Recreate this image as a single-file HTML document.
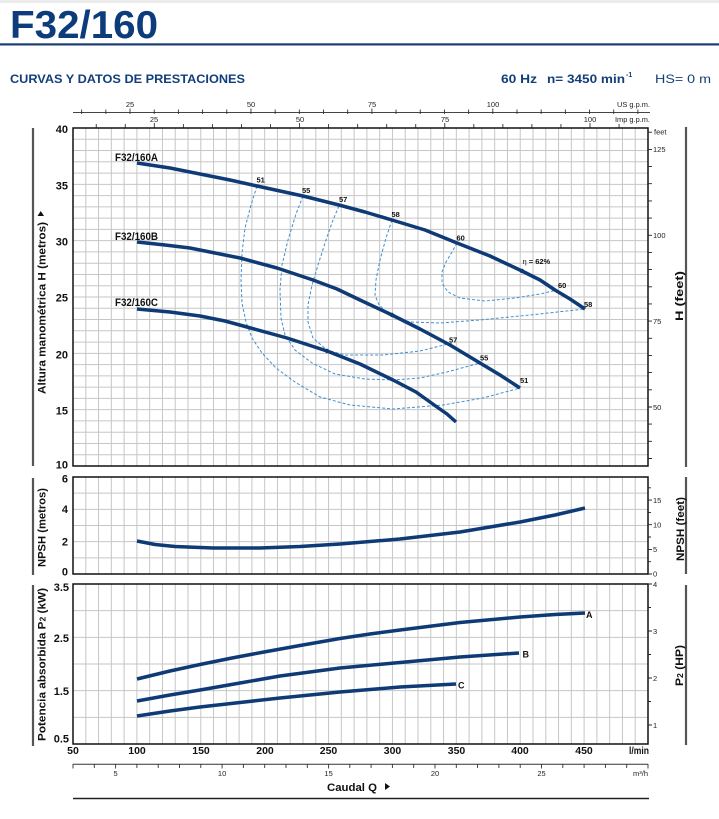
<!DOCTYPE html>
<html><head><meta charset="utf-8">
<style>
html,body{margin:0;padding:0;background:#fff;}
svg{display:block;}
text{font-family:"Liberation Sans",Arial,sans-serif;}
.b{font-weight:bold;}
.lt{font-size:11px;font-weight:bold;fill:#111;}
.sm{font-size:7.5px;fill:#222;}
.ef{font-size:7.5px;font-weight:bold;fill:#111;}
</style></head><body>
<svg width="719" height="819" viewBox="0 0 719 819" xmlns="http://www.w3.org/2000/svg">
<rect x="0" y="0" width="719" height="819" fill="#fff"/>
<rect x="0" y="0" width="719" height="3" fill="#ececec"/>
<!-- Header -->
<text x="10" y="38" font-size="39" font-weight="bold" fill="#0d3c7c" textLength="148" lengthAdjust="spacingAndGlyphs">F32/160</text>
<rect x="0" y="43.3" width="719" height="2.2" fill="#1d3f78"/>
<text x="10" y="83" font-size="11.5" font-weight="bold" fill="#123e7a" textLength="235" lengthAdjust="spacingAndGlyphs">CURVAS Y DATOS DE PRESTACIONES</text>
<text x="501" y="83" font-size="12" font-weight="bold" fill="#123e7a" textLength="36" lengthAdjust="spacingAndGlyphs">60 Hz</text>
<text x="547" y="83" font-size="12" font-weight="bold" fill="#123e7a" textLength="78" lengthAdjust="spacingAndGlyphs">n= 3450 min</text>
<text x="626" y="77" font-size="7" font-weight="bold" fill="#123e7a">-1</text>
<text x="655" y="83" font-size="12" fill="#123e7a" textLength="56" lengthAdjust="spacingAndGlyphs">HS= 0 m</text>

<!-- Top axes -->
<line x1="73" y1="112.5" x2="650" y2="112.5" stroke="#444" stroke-width="1"/>
<path stroke="#333" stroke-width="0.9" d="M81.66 109.5V114M105.85 109.5V114M130.03 108.5V114M154.22 109.5V114M178.4 109.5V114M202.59 109.5V114M226.77 109.5V114M250.96 108.5V114M275.14 109.5V114M299.32 109.5V114M323.51 109.5V114M347.69 109.5V114M371.88 108.5V114M396.06 109.5V114M420.25 109.5V114M444.43 109.5V114M468.62 109.5V114M492.8 108.5V114M516.99 109.5V114M541.17 109.5V114M565.35 109.5V114M589.54 109.5V114M613.72 109.5V114M637.91 109.5V114"/>
<text class="sm" x="130" y="107" text-anchor="middle">25</text>
<text class="sm" x="251" y="107" text-anchor="middle">50</text>
<text class="sm" x="372" y="107" text-anchor="middle">75</text>
<text class="sm" x="493" y="107" text-anchor="middle">100</text>
<text class="sm" x="650" y="107" text-anchor="end" textLength="33" lengthAdjust="spacingAndGlyphs">US g.p.m.</text>
<path stroke="#333" stroke-width="0.9" d="M96.24 124V128M125.29 124V128M154.33 123V128M183.38 124V128M212.42 124V128M241.47 124V128M270.51 124V128M299.56 123V128M328.6 124V128M357.64 124V128M386.69 124V128M415.73 124V128M444.78 123V128M473.82 124V128M502.87 124V128M531.91 124V128M560.96 124V128M590 123V128M619.05 124V128"/>
<text class="sm" x="154" y="122" text-anchor="middle">25</text>
<text class="sm" x="300" y="122" text-anchor="middle">50</text>
<text class="sm" x="445" y="122" text-anchor="middle">75</text>
<text class="sm" x="590" y="122" text-anchor="middle">100</text>
<text class="sm" x="650" y="122" text-anchor="end" textLength="35" lengthAdjust="spacingAndGlyphs">Imp g.p.m.</text>

<!-- Grid -->
<path fill="none" stroke="#c6c6c6" stroke-width="1" d="M85.78 128V744M98.56 128V744M111.33 128V744M124.11 128V744M136.89 128V744M149.67 128V744M162.44 128V744M175.22 128V744M188 128V744M200.78 128V744M213.56 128V744M226.33 128V744M239.11 128V744M251.89 128V744M264.67 128V744M277.44 128V744M290.22 128V744M303 128V744M315.78 128V744M328.56 128V744M341.33 128V744M354.11 128V744M366.89 128V744M379.67 128V744M392.44 128V744M405.22 128V744M418 128V744M430.78 128V744M443.56 128V744M456.33 128V744M469.11 128V744M481.89 128V744M494.67 128V744M507.44 128V744M520.22 128V744M533 128V744M545.78 128V744M558.56 128V744M571.33 128V744M584.11 128V744M596.89 128V744M609.67 128V744M622.44 128V744M635.22 128V744"/>
<rect x="70" y="466.8" width="582" height="9.5" fill="#fff"/>
<rect x="70" y="574.8" width="582" height="8.5" fill="#fff"/>
<path fill="none" stroke="#c6c6c6" stroke-width="1" d="M73 139.27H648M73 150.53H648M73 161.8H648M73 173.07H648M73 184.33H648M73 195.6H648M73 206.87H648M73 218.13H648M73 229.4H648M73 240.67H648M73 251.93H648M73 263.2H648M73 274.47H648M73 285.73H648M73 297H648M73 308.27H648M73 319.53H648M73 330.8H648M73 342.07H648M73 353.33H648M73 364.6H648M73 375.87H648M73 387.13H648M73 398.4H648M73 409.67H648M73 420.93H648M73 432.2H648M73 443.47H648M73 454.73H648
M73 493.17H648M73 509.33H648M73 525.5H648M73 541.67H648M73 557.83H648
M73 610.67H648M73 637.33H648M73 664H648M73 690.67H648M73 717.33H648"/>

<!-- Borders -->
<rect x="73" y="128" width="575" height="338" fill="none" stroke="#111" stroke-width="1.5"/>
<rect x="73" y="477" width="575" height="97" fill="none" stroke="#111" stroke-width="1.5"/>
<rect x="73" y="584" width="575" height="160" fill="none" stroke="#111" stroke-width="1.5"/>

<!-- Side bars -->
<path stroke="#555" stroke-width="2.2" d="M33 128V466M33 478V575M33 585V746M686 127V467M686 477V574M686 585V745"/>

<!-- Left labels main -->
<text class="lt" x="68" y="133" text-anchor="end">40</text>
<text class="lt" x="68" y="189.5" text-anchor="end">35</text>
<text class="lt" x="68" y="245.5" text-anchor="end">30</text>
<text class="lt" x="68" y="301.5" text-anchor="end">25</text>
<text class="lt" x="68" y="358.5" text-anchor="end">20</text>
<text class="lt" x="68" y="414.5" text-anchor="end">15</text>
<text class="lt" x="68" y="468.5" text-anchor="end">10</text>
<!-- NPSH left -->
<text class="lt" x="68" y="482.5" text-anchor="end">6</text>
<text class="lt" x="68" y="513" text-anchor="end">4</text>
<text class="lt" x="68" y="545.5" text-anchor="end">2</text>
<text class="lt" x="68" y="575.5" text-anchor="end">0</text>
<!-- Power left -->
<text class="lt" x="69" y="591" text-anchor="end">3.5</text>
<text class="lt" x="69" y="642" text-anchor="end">2.5</text>
<text class="lt" x="69" y="695" text-anchor="end">1.5</text>
<text class="lt" x="69" y="742.5" text-anchor="end">0.5</text>

<!-- Left titles -->
<text transform="translate(45.5,394) rotate(-90)" font-size="11" font-weight="bold" fill="#111" textLength="172" lengthAdjust="spacingAndGlyphs">Altura manométrica H (metros)</text>
<path d="M37.5 216 L44 216 L40.75 211 Z" fill="#111"/>
<text transform="translate(45.5,567) rotate(-90)" font-size="11" font-weight="bold" fill="#111" textLength="79" lengthAdjust="spacingAndGlyphs">NPSH (metros)</text>
<text transform="translate(45.5,741) rotate(-90)" font-size="11" font-weight="bold" fill="#111" textLength="153" lengthAdjust="spacingAndGlyphs">Potencia absorbida P<tspan font-size="8">2</tspan> (kW)</text>

<!-- Right ticks H feet -->
<path stroke="#222" stroke-width="0.9" d="M648 458.5h4M648 441.3h4M648 424.1h4M648 407h4M648 389.8h4M648 372.6h4M648 355.4h4M648 338.3h4M648 321.1h4M648 303.9h4M648 286.8h4M648 269.6h4M648 252.4h4M648 235.3h4M648 218.1h4M648 200.9h4M648 183.7h4M648 166.6h4M648 149.4h4M648 132.2h4"/>
<text class="sm" x="653" y="410">50</text>
<text class="sm" x="653" y="324">75</text>
<text class="sm" x="653" y="238">100</text>
<text class="sm" x="653" y="152">125</text>
<text class="sm" x="654" y="134.5">feet</text>
<!-- NPSH feet -->
<path stroke="#222" stroke-width="0.9" d="M648 574h4M648 561.7h3M648 549.4h4M648 537h3M648 524.7h4M648 512.4h3M648 500.1h4M648 487.8h3"/>
<text class="sm" x="653" y="576.5">0</text>
<text class="sm" x="653" y="552">5</text>
<text class="sm" x="653" y="527.5">10</text>
<text class="sm" x="653" y="503">15</text>
<!-- HP -->
<path stroke="#222" stroke-width="0.9" d="M648 584h4M648 607.5h3M648 631h4M648 654.5h3M648 678h4M648 701.5h3M648 725h4"/>
<text class="sm" x="653" y="587">4</text>
<text class="sm" x="653" y="634">3</text>
<text class="sm" x="653" y="681">2</text>
<text class="sm" x="653" y="728">1</text>

<!-- Right titles -->
<text transform="translate(683,321) rotate(-90)" font-size="11" font-weight="bold" fill="#111" textLength="50" lengthAdjust="spacingAndGlyphs">H (feet)</text>
<text transform="translate(684,561) rotate(-90)" font-size="11" font-weight="bold" fill="#111" textLength="64" lengthAdjust="spacingAndGlyphs">NPSH (feet)</text>
<text transform="translate(683,686) rotate(-90)" font-size="11" font-weight="bold" fill="#111" textLength="41" lengthAdjust="spacingAndGlyphs">P<tspan font-size="8">2</tspan> (HP)</text>

<!-- Bottom axis -->
<g class="lt" font-size="10.5">
<text x="73" y="754" text-anchor="middle" font-size="10.5">50</text>
<text x="137" y="754" text-anchor="middle" font-size="10.5">100</text>
<text x="201" y="754" text-anchor="middle" font-size="10.5">150</text>
<text x="265" y="754" text-anchor="middle" font-size="10.5">200</text>
<text x="328.5" y="754" text-anchor="middle" font-size="10.5">250</text>
<text x="392.5" y="754" text-anchor="middle" font-size="10.5">300</text>
<text x="456.5" y="754" text-anchor="middle" font-size="10.5">350</text>
<text x="520" y="754" text-anchor="middle" font-size="10.5">400</text>
<text x="584" y="754" text-anchor="middle" font-size="10.5">450</text>
<text x="649" y="754" text-anchor="end" font-size="10.5" textLength="20" lengthAdjust="spacingAndGlyphs">l/min</text>
</g>
<line x1="73" y1="764.3" x2="648" y2="764.3" stroke="#333" stroke-width="1"/>
<path stroke="#333" stroke-width="0.9" d="M73 764V768.5M94.3 764V768M115.6 764V768.5M136.9 764V768M158.2 764V768M179.5 764V768M200.8 764V768M222.1 764V768.5M243.4 764V768M264.7 764V768M286 764V768M307.3 764V768M328.6 764V768.5M349.8 764V768M371.1 764V768M392.4 764V768M413.7 764V768M435 764V768.5M456.3 764V768M477.6 764V768M498.9 764V768M520.2 764V768M541.5 764V768.5M562.8 764V768M584.1 764V768M605.4 764V768M626.7 764V768M648 764V768.5"/>
<text class="sm" x="115.6" y="776" text-anchor="middle">5</text>
<text class="sm" x="222.1" y="776" text-anchor="middle">10</text>
<text class="sm" x="328.6" y="776" text-anchor="middle">15</text>
<text class="sm" x="435" y="776" text-anchor="middle">20</text>
<text class="sm" x="541.5" y="776" text-anchor="middle">25</text>
<text class="sm" x="648" y="776" text-anchor="end">m³/h</text>
<text x="327" y="791" font-size="11" font-weight="bold" fill="#111" textLength="50" lengthAdjust="spacingAndGlyphs">Caudal Q</text>
<path d="M385 783 L385 790 L390 786.5 Z" fill="#111"/>
<line x1="73" y1="798.5" x2="649" y2="798.5" stroke="#222" stroke-width="1.6"/>

<!-- Efficiency iso-curves -->
<g fill="none" stroke="#3f8fd0" stroke-width="1" stroke-dasharray="3,2">
<polyline points="257,186 251,205 245,228 242,253 241,280 242,303 246,322 252,338 262,353 276,368 295,382 320,397 350,405 393,409 443,405 483,398 520,388"/>
<polyline points="303,196 296,214 288,240 282,265 280,290 281,318 285,335 295,350 312,363 335,374 365,379 393,380 420,378 447,372 480,363"/>
<polyline points="339,206 333,220 326,240 318,265 312,285 308,305 308,322 313,338 327,350 345,355 383,355 420,351 452,343"/>
<polyline points="392,220 386,238 380,260 376,280 375,295 379,305 390,315 410,322 440,323 480,320 530,315 585,309"/>
<polyline points="457,243 452,252 446,262 442,272 442,283 448,292 460,298 485,301 515,298 540,294 557,290"/>
</g>
<text class="ef" x="256.5" y="182.5">51</text>
<text class="ef" x="302" y="193">55</text>
<text class="ef" x="339" y="202">57</text>
<text class="ef" x="391.5" y="217">58</text>
<text class="ef" x="456.5" y="240.5">60</text>
<text class="ef" x="522.5" y="264"><tspan font-weight="normal">η</tspan> = 62%</text>
<text class="ef" x="558" y="288">60</text>
<text class="ef" x="584" y="307">58</text>
<text class="ef" x="449" y="342.5">57</text>
<text class="ef" x="480" y="360.5">55</text>
<text class="ef" x="520" y="383">51</text>

<!-- Main curves -->
<g fill="none" stroke="#0e3a76" stroke-width="3.5" stroke-linejoin="round" stroke-linecap="butt">
<polyline points="137,163 170,168 200,174 230,180 257,186 280,191 303,196 339,205 365,212 392,220 425,230 457,243 490,256 522,271 540,280 555,290 570,299 585,309"/>
<polyline points="137,242 165,245 190,248 215,253 240,258 277,268 313,280 337,289 360,300 392,315 420,329 450,345 480,363 500,375 520,388"/>
<polyline points="137,309 170,312 200,316 225,321 247,327 287,338 327,351 360,364 393,380 416,392 437,407 447,414 456,422"/>
<polyline points="137,541 155,544.5 175,546.5 213,548 260,548 300,546.5 340,544 400,539 460,532 520,522 555,515 585,508"/>
<polyline points="137,679 170,671 200,664.5 232,658 264,652 300,645.5 340,638.5 370,634 400,630 460,622.5 520,617 555,614.5 585,613"/>
<polyline points="137,701 170,695 200,690 240,683 280,676 340,668 400,662.5 460,657 519,653"/>
<polyline points="137,716 170,711 200,707 240,702.5 280,698 340,692 400,687 456,684"/>
</g>
<circle cx="522" cy="271" r="2.2" fill="#0e3a76"/>
<circle cx="392" cy="315" r="2.2" fill="#0e3a76"/>
<circle cx="327" cy="351" r="2.2" fill="#0e3a76"/>

<!-- Curve labels -->
<text x="115" y="161" font-size="11" font-weight="bold" fill="#111" textLength="43" lengthAdjust="spacingAndGlyphs">F32/160A</text>
<text x="115" y="240" font-size="11" font-weight="bold" fill="#111" textLength="43" lengthAdjust="spacingAndGlyphs">F32/160B</text>
<text x="115" y="306" font-size="11" font-weight="bold" fill="#111" textLength="43" lengthAdjust="spacingAndGlyphs">F32/160C</text>
<text x="586" y="618" font-size="9" font-weight="bold" fill="#111">A</text>
<text x="522.5" y="657.5" font-size="9" font-weight="bold" fill="#111">B</text>
<text x="458" y="688.5" font-size="9" font-weight="bold" fill="#111">C</text>
</svg>
</body></html>
